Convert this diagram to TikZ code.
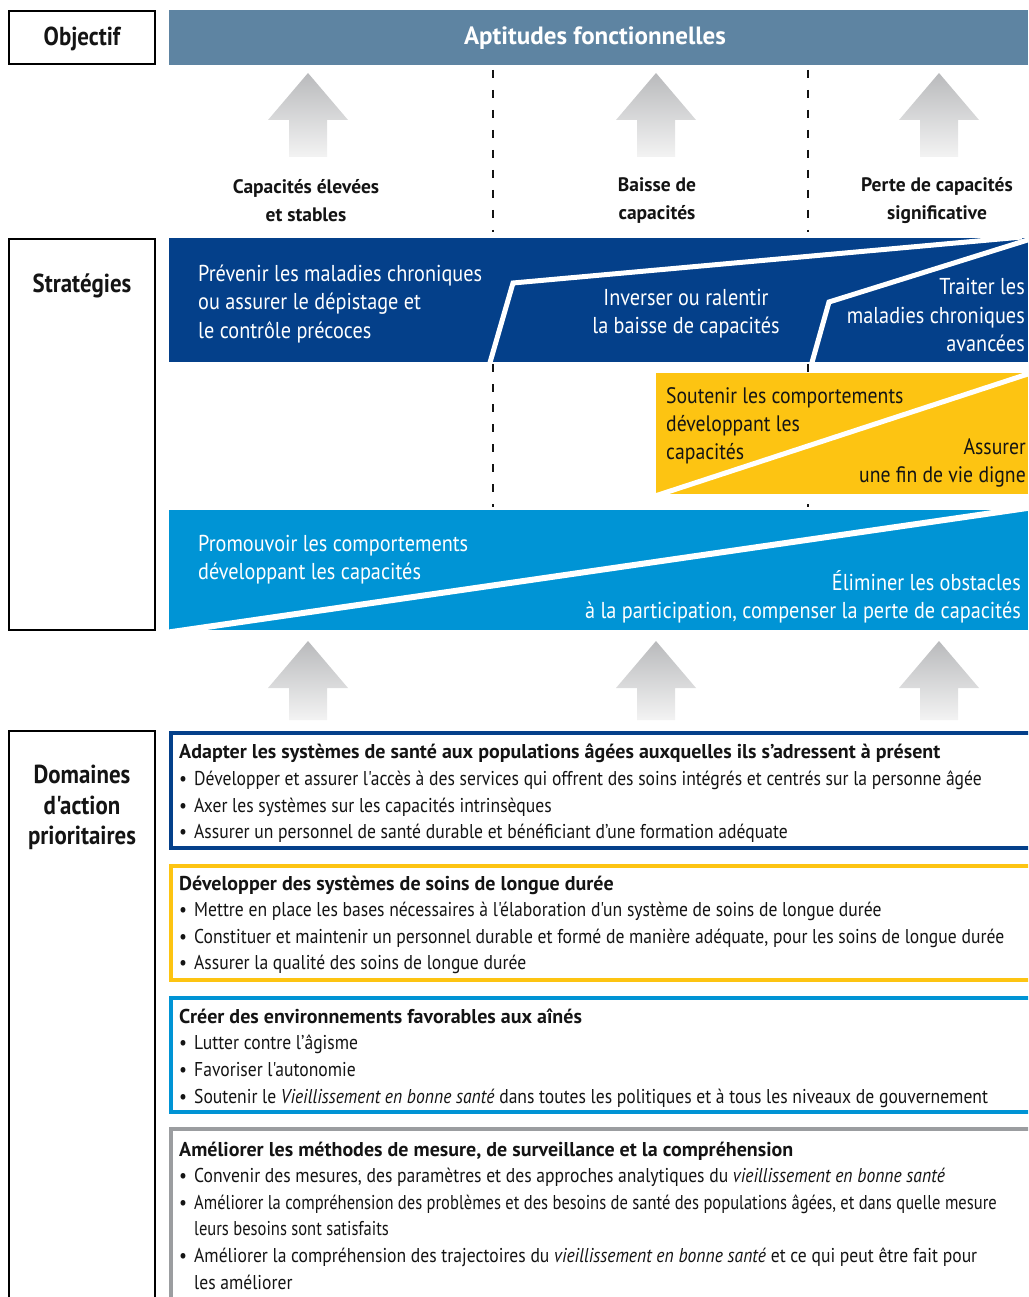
\documentclass[tikz,border=0pt]{standalone}
\usepackage{fontspec}
\setmainfont{PT Sans}[FakeStretch=0.88, BoldFeatures={FakeStretch=1.0}, Ligatures=TeXOff]
\newfontfamily\headfont{PT Sans}[FakeStretch=0.88, Ligatures=TeXOff]
\definecolor{objblue}{RGB}{94,132,162}
\definecolor{darkblue}{RGB}{4,64,138}
\definecolor{sunyellow}{RGB}{253,196,18}
\definecolor{lightblue}{RGB}{0,148,213}
\definecolor{bordergray}{RGB}{155,157,160}
\definecolor{arrowtop}{RGB}{185,186,188}
\definecolor{arrowbot}{RGB}{243,243,243}
\definecolor{inkblack}{RGB}{20,20,20}
\newcommand\bitem{\makebox[15pt][l]{\textbullet}}
\newcommand\bcont{\hspace*{15pt}}
\newcommand\squeeze[1]{\scalebox{0.94}[1]{#1}}
\newcommand\blockarrow[4]{%
  \path[top color=arrowtop, bottom color=arrowbot]
    (#1,#2) -- ({#1+40},#3) -- ({#1+19},#3) -- ({#1+19},#4) -- ({#1-19},#4)
    -- ({#1-19},#3) -- ({#1-40},#3) -- cycle;}
\begin{document}
\begin{tikzpicture}[x=1pt, y=-1pt,
  labelbox/.style={draw=black, line width=2pt},
  labeltext/.style={font=\headfont\fontsize{26}{30.5}\selectfont\bfseries, text=inkblack, align=center, inner sep=0},
  coltext/.style={font=\fontsize{19.5}{28}\selectfont\bfseries, text=inkblack, align=center, inner sep=0},
  strattext/.style={font=\fontsize{23}{28.2}\selectfont, inner sep=0},
  boxtext/.style={font=\fontsize{20}{26.6}\selectfont, text=inkblack, anchor=west, align=left, inner sep=0},
  divider/.style={line width=1.5pt, dash pattern=on 8pt off 12pt, draw=inkblack},
  cutline/.style={draw=white, line width=5pt, line join=miter}]
\useasboundingbox (0,0) rectangle (1028,1297);
\clip (0,0) rectangle (1028,1297);

% left label boxes
\draw[labelbox] (9,11) rectangle (155,64);
\node[labeltext] (objectif) at (82,38.5) {Objectif};
\draw[labelbox] (9,239) rectangle (155,630);
\node[labeltext] (strategies) at (82,285.5) {Stratégies};
\draw[labelbox] (9,731) rectangle (155,1320);
\node[labeltext] (domaines) at (82,807.5) {Domaines\\d'action\\prioritaires};

% objective banner
\fill[objblue] (169,10) rectangle (1028,65);
\node[font=\fontsize{25}{30}\selectfont\bfseries, text=white, inner sep=0] (aptitudes) at (595,38.5) {Aptitudes fonctionnelles};

% dashed dividers
\coordinate (d1a) at (493,70); \coordinate (d1b) at (493,232);
\coordinate (d1c) at (493,364); \coordinate (d1d) at (493,507);
\coordinate (d2a) at (808,70); \coordinate (d2b) at (808,232);
\coordinate (d2c) at (808,364); \coordinate (d2d) at (808,507);
\draw[divider] (d1a) -- (d1b);
\draw[divider] (d1c) -- (d1d);
\draw[divider] (d2a) -- (d2b);
\draw[divider] (d2c) -- (d2d);

% upper arrows
\blockarrow{308}{73}{120}{157}
\blockarrow{656}{73}{120}{157}
\blockarrow{939}{73}{120}{157}

% column labels
\node[coltext] (col1) at (306,200.5) {Capacités élevées\\et stables};
\node[coltext] (col2) at (657,200.5) {Baisse de\\capacités};
\node[coltext] (col3) at (937,200.5) {Perte de capacités\\significative};

% dark blue band
\begin{scope}
  \clip (169,238) rectangle (1028,362);
  \fill[darkblue] (169,238) rectangle (1028,362);
  \draw[cutline] (489,366) -- (513,283) -- (1022,237);
  \draw[cutline] (811,366) -- (829,302) -- (1034,238);
\end{scope}
\node[strattext, text=white, anchor=west, align=left] (prevenir) at (198,304)
  {Prévenir les maladies chroniques\\ou assurer le dépistage et\\le contrôle précoces};
\node[strattext, text=white, align=center] (inverser) at (686,314)
  {Inverser ou ralentir\\la baisse de capacités};
\node[strattext, text=white, anchor=east, align=right] (traiter) at (1025,315)
  {Traiter les\\maladies chroniques\\avancées};

% yellow band
\begin{scope}
  \clip (656,373) rectangle (1028,494);
  \fill[sunyellow] (656,373) rectangle (1028,494);
  \draw[cutline] (652,497) -- (1034,372);
\end{scope}
\node[strattext, font=\fontsize{22.4}{28.2}\selectfont, text=inkblack, anchor=west, align=left] (soutenir) at (666,426)
  {Soutenir les comportements\\développant les\\capacités};
\node[strattext, font=\fontsize{22.4}{28.2}\selectfont, text=inkblack, anchor=east, align=right] (assurer) at (1026,463)
  {Assurer\\une fin de vie digne};

% light blue band
\begin{scope}
  \clip (169,510) rectangle (1028,630);
  \fill[lightblue] (169,510) rectangle (1028,630);
  \draw[cutline, line width=6pt] (165,633) -- (1034,507);
\end{scope}
\node[strattext, text=white, anchor=west, align=left] (promouvoir) at (198,560)
  {Promouvoir les comportements\\développant les capacités};
\node[strattext, text=white, anchor=east, align=right] (eliminer) at (1021,597)
  {Éliminer les obstacles\\à la participation, compenser la perte de capacités};

% lower arrows
\blockarrow{308}{641}{688}{720}
\blockarrow{656}{641}{688}{720}
\blockarrow{939}{641}{688}{720}

% priority boxes
\draw[darkblue, line width=4pt] (1040,733) -- (171,733) -- (171,848) -- (1040,848);
\node[boxtext] (box1) at (179,793.5) {%
\textbf{Adapter les systèmes de santé aux populations âgées auxquelles ils s’adressent à présent}\\
\bitem Développer et assurer l'accès à des services qui offrent des soins intégrés et centrés sur la personne âgée\\
\bitem Axer les systèmes sur les capacités intrinsèques\\
\bitem Assurer un personnel de santé durable et bénéficiant d’une formation adéquate};

\draw[sunyellow, line width=4pt] (1040,866) -- (171,866) -- (171,980) -- (1040,980);
\node[boxtext] (box2) at (179,925) {%
\textbf{Développer des systèmes de soins de longue durée}\\
\bitem Mettre en place les bases nécessaires à l'élaboration d'un système de soins de longue durée\\
\bitem Constituer et maintenir un personnel durable et formé de manière adéquate, pour les soins de longue durée\\
\bitem Assurer la qualité des soins de longue durée};

\draw[lightblue, line width=4pt] (1040,998) -- (171,998) -- (171,1112) -- (1040,1112);
\node[boxtext] (box3) at (179,1058) {%
\textbf{Créer des environnements favorables aux aînés}\\
\bitem Lutter contre l’âgisme\\
\bitem Favoriser l'autonomie\\
\bitem Soutenir le \textit{Vieillissement en bonne santé} dans toutes les politiques et à tous les niveaux de gouvernement};

\draw[bordergray, line width=4pt] (1040,1129) -- (171,1129) -- (171,1320);
\node[boxtext] (box4) at (179,1215.5) {%
\textbf{Améliorer les méthodes de mesure, de surveillance et la compréhension}\\
\bitem Convenir des mesures, des paramètres et des approches analytiques du \textit{vieillissement en bonne santé}\\
\bitem \squeeze{Améliorer la compréhension des problèmes et des besoins de santé des populations âgées, et dans quelle mesure}\\
\bcont \squeeze{leurs besoins sont satisfaits}\\
\bitem Améliorer la compréhension des trajectoires du \textit{vieillissement en bonne santé} et ce qui peut être fait pour\\
\bcont les améliorer};
\end{tikzpicture}
\end{document}
